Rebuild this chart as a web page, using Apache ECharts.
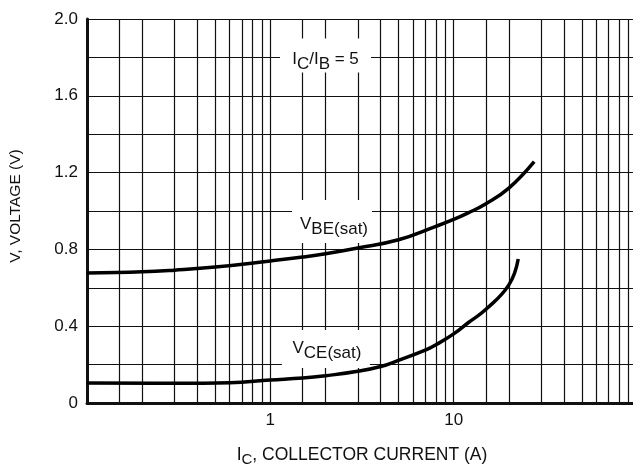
<!DOCTYPE html>
<html>
<head>
<meta charset="utf-8">
<script src="https://cdn.jsdelivr.net/npm/echarts@6/dist/echarts.min.js"></script>
<style>
  html, body { margin: 0; padding: 0; background: #fff; }
  #chart { width: 633px; height: 468px; }
</style>
</head>
<body>
<div id="chart"></div>
<script>
  // values (collector current in A, voltage in V)
  const vbeCurrent = [0.1, 0.2, 0.3, 0.5, 1, 1.5, 2, 3, 5, 8, 10, 12, 15, 20, 27.5];
  const vbeVolts = [0.677, 0.683, 0.692, 0.708, 0.740, 0.760, 0.777, 0.807, 0.850, 0.920, 0.956, 0.990, 1.038, 1.119, 1.257];
  const vceCurrent = [0.1, 0.3, 0.6, 1, 1.5, 2, 3, 4, 5, 7, 8, 10, 12, 15, 20, 22.5];
  const vceVolts = [0.104, 0.103, 0.106, 0.120, 0.130, 0.142, 0.165, 0.190, 0.222, 0.275, 0.303, 0.360, 0.418, 0.488, 0.615, 0.750];

  // vertical grid lines of the log paper
  const gridCurrents = [0.15, 0.2, 0.3, 0.4, 0.5, 0.6, 0.7, 0.8, 0.9, 1,
    1.5, 2, 3, 4, 5, 6, 7, 8, 9, 10,
    15, 20, 30, 40, 50, 60, 70, 80, 90];
  const xTickLabels = [1, 10];
  const yTickLabels = [0, 0.4, 0.8, 1.2, 1.6, 2.0];

  const font = '"Liberation Sans", Arial, sans-serif';
  const ink = '#111';

  // labels in the plot: [current, voltage, rich text, box size]
  const notes = [
    { coord: [2.0, 1.81], text: '{m|I}{s|C}{m|/I}{s|B}{m| = 5}', box: [91, 34], shift: [0, 6] },
    { coord: [2.17, 0.945], text: '{m|V}{s|BE(sat)}', box: [80, 43], shift: [2, 5] },
    { coord: [2.01, 0.281], text: '{m|V}{s|CE(sat)}', box: [88, 38], shift: [1, 2] }
  ];

  const chart = echarts.init(document.getElementById('chart'), null, { renderer: 'canvas' });

  const rich = {
    m: { fontFamily: font, fontSize: 17, color: ink, lineHeight: 18, verticalAlign: 'top' },
    s: { fontFamily: font, fontSize: 17, color: ink, lineHeight: 22, verticalAlign: 'bottom' }
  };

  const option = {
    animation: false,
    backgroundColor: '#fff',
    grid: {
      left: 87,
      right: -4,
      top: 19,
      bottom: 65,
      containLabel: false,
      outerBoundsMode: 'none'
    },
    xAxis: {
      type: 'log',
      logBase: 10,
      min: 0.1,
      max: 100,
      name: '{m|I}{s|C}{m|, COLLECTOR CURRENT (A)}',
      nameLocation: 'middle',
      nameGap: 43,
      nameTextStyle: {
        rich: {
          m: { fontFamily: font, fontSize: 17.5, color: ink, lineHeight: 18, verticalAlign: 'top' },
          s: { fontFamily: font, fontSize: 15, color: ink, lineHeight: 21, verticalAlign: 'bottom' }
        }
      },
      axisLine: { show: true, onZero: false, lineStyle: { color: ink, width: 3 } },
      axisTick: { show: false },
      splitLine: { show: false },
      minorTick: { show: false },
      axisLabel: {
        margin: 9,
        fontFamily: font,
        fontSize: 17,
        color: ink,
        showMinLabel: false,
        formatter: function (v) {
          const hit = xTickLabels.find(t => Math.abs(Math.log10(v) - Math.log10(t)) < 1e-6);
          return hit === undefined ? '' : String(hit);
        }
      }
    },
    yAxis: {
      type: 'value',
      min: 0,
      max: 2.0,
      interval: 0.2,
      name: 'V, VOLTAGE (V)',
      nameLocation: 'middle',
      nameGap: 63,
      nameTextStyle: { fontFamily: font, fontSize: 15.5, color: ink, padding: [0, 0, 0, 10] },
      axisLine: { show: true, lineStyle: { color: ink, width: 3 } },
      axisTick: { show: false },
      splitLine: { show: true, lineStyle: { color: ink, width: 1.2 } },
      axisLabel: {
        margin: 9,
        fontFamily: font,
        fontSize: 17,
        color: ink,
        formatter: function (v) {
          const hit = yTickLabels.find(t => Math.abs(v - t) < 1e-6);
          if (hit === undefined) return '';
          return hit === 0 ? '0' : hit.toFixed(1);
        }
      }
    },
    series: [
      {
        name: 'paper',
        type: 'line',
        data: [],
        z: 1,
        silent: true,
        markLine: {
          z: 1,
          silent: true,
          symbol: ['none', 'none'],
          label: { show: false },
          lineStyle: { type: 'solid', color: ink, width: 1.2 },
          emphasis: { disabled: true },
          data: gridCurrents.map(c => ({ xAxis: c }))
        }
      },
      {
        name: 'notes',
        type: 'line',
        data: [],
        z: 3,
        silent: true,
        markPoint: {
          z: 3,
          silent: true,
          symbol: 'rect',
          itemStyle: { color: '#fff' },
          label: { show: true, position: 'inside', rich: rich },
          data: notes.map(n => ({
            coord: n.coord,
            symbolSize: n.box,
            label: { formatter: n.text, offset: n.shift }
          }))
        }
      },
      {
        name: 'VBE(sat)',
        type: 'line',
        smooth: 0.45,
        showSymbol: false,
        z: 4,
        lineStyle: { color: '#000', width: 3.5 },
        data: vbeCurrent.map((c, i) => [c, vbeVolts[i]])
      },
      {
        name: 'VCE(sat)',
        type: 'line',
        smooth: 0.45,
        showSymbol: false,
        z: 4,
        lineStyle: { color: '#000', width: 3.5 },
        data: vceCurrent.map((c, i) => [c, vceVolts[i]])
      }
    ]
  };

  chart.setOption(option);
</script>
</body>
</html>
